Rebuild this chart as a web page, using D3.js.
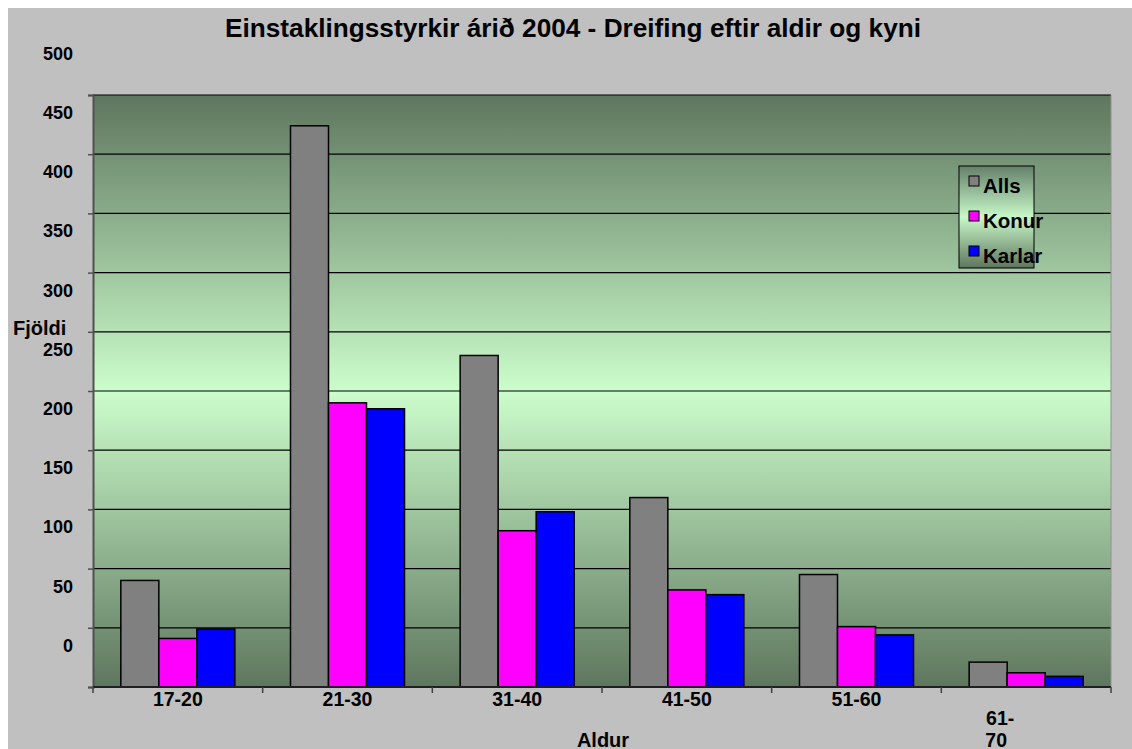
<!DOCTYPE html>
<html><head><meta charset="utf-8">
<script src="https://cdn.jsdelivr.net/npm/d3@7"></script>
<style>
html,body{margin:0;padding:0;background:#fff;}
text{font-family:Arial,"Liberation Sans",sans-serif;font-weight:bold;fill:#000;}
</style></head><body>
<svg id="c" width="1132" height="749"></svg>
<script>
const categories = ["17-20","21-30","31-40","41-50","51-60","61-70"];
const seriesNames = ["Alls","Konur","Karlar"];
const alls   = [90, 474, 280, 160, 95, 21];
const konur  = [41, 240, 132, 82, 51, 12];
const karlar = [49, 235, 148, 78, 44, 9];
const yTicks = [0,50,100,150,200,250,300,350,400,450,500];
const colors = ["#808080","#ff00ff","#0000ff"];
const seriesValues = [alls, konur, karlar];

const svg = d3.select("#c");
svg.append("rect").attr("x",8).attr("y",8).attr("width",1124).attr("height",741).attr("fill","#c0c0c0");

const L=93, R=1111, T=95, B=687;
const defs = svg.append("defs");
const g1 = defs.append("linearGradient").attr("id","bg").attr("x1",0).attr("y1",0).attr("x2",0).attr("y2",1);
g1.append("stop").attr("offset","0%").attr("stop-color","#5e765e");
g1.append("stop").attr("offset","50%").attr("stop-color","#ccfdcc");
g1.append("stop").attr("offset","100%").attr("stop-color","#5e765e");
const g2 = defs.append("linearGradient").attr("id","lg").attr("x1",0).attr("y1",0).attr("x2",0).attr("y2",1);
g2.append("stop").attr("offset","0%").attr("stop-color","#64806a");
g2.append("stop").attr("offset","50%").attr("stop-color","#c8f8c8");
g2.append("stop").attr("offset","100%").attr("stop-color","#5e765e");

svg.append("rect").attr("x",L).attr("y",T).attr("width",R-L).attr("height",B-T).attr("fill","url(#bg)");

const y = d3.scaleLinear().domain([0,500]).range([B,T]);
const x0 = d3.scaleBand().domain(categories).range([L,R]).paddingInner(0.328).paddingOuter(0.164);
const x1 = d3.scaleBand().domain(seriesNames).range([0,x0.bandwidth()]);

// gridlines
svg.append("g").selectAll("line").data(yTicks.filter(v=>v>0)).join("line")
  .attr("x1",L).attr("x2",R).attr("y1",d=>y(d)).attr("y2",d=>y(d))
  .attr("stroke","#000").attr("stroke-width",1.2);
svg.append("line").attr("x1",R).attr("x2",R).attr("y1",T).attr("y2",B).attr("stroke","#909090").attr("stroke-width",1);

// bars
const groups = svg.append("g").selectAll("g").data(categories).join("g")
  .attr("transform",c=>`translate(${x0(c)},0)`);
groups.selectAll("rect").data((c,i)=>seriesNames.map((s,j)=>({s, v:seriesValues[j][i], color:colors[j]})))
  .join("rect")
  .attr("x",d=>x1(d.s)).attr("width",x1.bandwidth())
  .attr("y",d=>y(d.v)).attr("height",d=>B-y(d.v))
  .attr("fill",d=>d.color).attr("stroke","#000").attr("stroke-width",1.5);

// y axis
const yAxis = svg.append("g").attr("transform",`translate(${L},0)`)
  .call(d3.axisLeft(y).tickValues(yTicks).tickSize(5).tickPadding(14).tickFormat(d3.format("d")));
yAxis.select(".domain").attr("stroke","#505050").attr("stroke-width",2);
yAxis.selectAll(".tick line").attr("stroke","#505050").attr("stroke-width",1.5);
yAxis.selectAll(".tick text").attr("font-size",18).attr("font-family","Arial, 'Liberation Sans', sans-serif")
  .attr("font-weight","bold").attr("fill","#000").attr("dy","0.35em").attr("transform","translate(-1,-42)");

// x axis
const xb = d3.scaleLinear().domain([0,categories.length]).range([L,R]);
const xAxisG = svg.append("g");
xAxisG.append("line").attr("x1",L).attr("x2",R).attr("y1",B).attr("y2",B).attr("stroke","#202020").attr("stroke-width",2);
xAxisG.selectAll("line.t").data(d3.range(categories.length+1)).join("line").attr("class","t")
  .attr("x1",d=>xb(d)).attr("x2",d=>xb(d)).attr("y1",B).attr("y2",B+6).attr("stroke","#404040").attr("stroke-width",1.5);
xAxisG.selectAll("text").data(categories).join("text")
  .attr("font-size",19.5).attr("text-anchor","middle")
  .each(function(c,i){
    const t=d3.select(this);
    const cx = x0(c)+x0.bandwidth()/2;
    if(c==="61-70"){
      t.append("tspan").attr("x",cx-26).attr("y",725).text("61-");
      t.append("tspan").attr("x",cx-30).attr("y",747).text("70");
    } else {
      t.attr("x",cx).attr("y",706).text(c);
    }
  });

// titles
svg.append("text").attr("x",573).attr("y",37).attr("text-anchor","middle").attr("font-size",25)
  .attr("textLength",696).attr("lengthAdjust","spacingAndGlyphs")
  .text("Einstaklingsstyrkir árið 2004 - Dreifing eftir aldir og kyni");
svg.append("text").attr("x",603).attr("y",747).attr("text-anchor","middle").attr("font-size",20).text("Aldur");
svg.append("text").attr("x",13).attr("y",335).attr("font-size",20).text("Fjöldi");

// legend
const lg = svg.append("g");
lg.append("rect").attr("x",959).attr("y",166).attr("width",75).attr("height",102).attr("fill","url(#lg)").attr("stroke","#000").attr("stroke-width",1);
seriesNames.forEach((s,i)=>{
  const yy = 176 + i*35;
  lg.append("rect").attr("x",969).attr("y",yy).attr("width",10).attr("height",10).attr("fill",colors[i]).attr("stroke","#000").attr("stroke-width",1);
  lg.append("text").attr("x",983).attr("y",yy+17).attr("font-size",20.5).text(s);
});
</script>
</body></html>
